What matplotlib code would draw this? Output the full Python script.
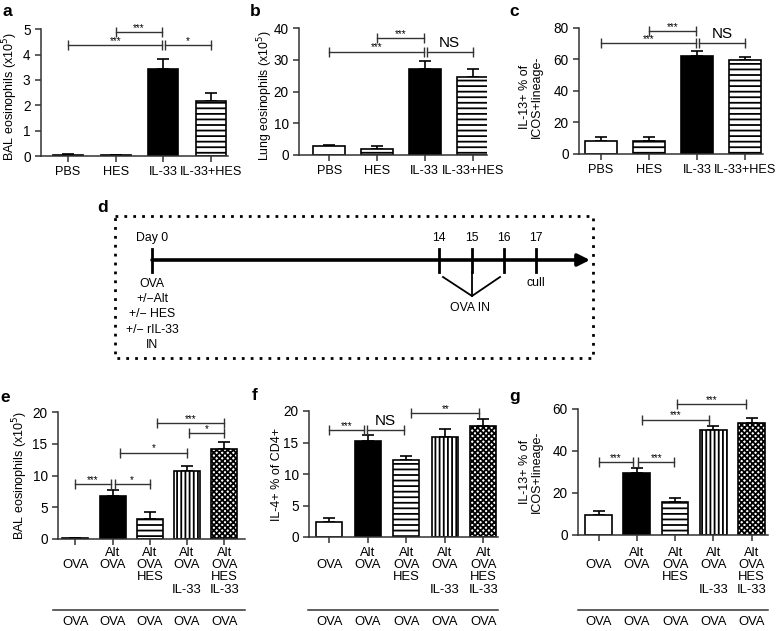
import matplotlib
matplotlib.use('Agg')
import matplotlib.pyplot as plt
import matplotlib.transforms as mtransforms
from matplotlib.patches import Rectangle
import numpy as np

plt.rcParams['font.family'] = ['Liberation Sans', 'DejaVu Sans']
plt.rcParams['hatch.linewidth'] = 1.3

W, H = 777, 631

# ---- data: panels a-c ----
groups_abc = ['PBS', 'HES', 'IL-33', 'IL-33+HES']
bal_mean = [0.05, 0.02, 3.42, 2.18]
bal_err = [0.02, 0.01, 0.40, 0.29]
lung_mean = [2.7, 2.0, 27.3, 24.7]
lung_err = [0.4, 0.7, 2.4, 2.6]
ilc_mean = [8.0, 8.5, 62.0, 59.5]
ilc_err = [3.0, 2.2, 3.0, 2.2]

sig_a = [(0, 1.98, 4.38, '***'), (1, 1.98, 4.88, '***'), (2.04, 3, 4.38, '*')]
sig_b = [(0, 1.98, 32.6, '***'), (1, 1.98, 36.8, '***'), (2.04, 3, 32.6, 'NS')]
sig_c = [(0, 1.98, 70.0, '***'), (1, 1.98, 77.9, '***'), (2.04, 3, 70.0, 'NS')]

# ---- data: panels e-g ----
row_alt = ['', 'Alt', 'Alt', 'Alt', 'Alt']
row_ova = ['OVA', 'OVA', 'OVA', 'OVA', 'OVA']
row_hes = ['', '', 'HES', '', 'HES']
row_il33 = ['', '', '', 'IL-33', 'IL-33']
challenge = ['OVA', 'OVA', 'OVA', 'OVA', 'OVA']

e_mean = [0.1, 6.8, 3.2, 10.7, 14.2]
e_err = [0.05, 0.85, 1.0, 0.8, 1.15]
f_mean = [2.4, 15.2, 12.2, 15.8, 17.6]
f_err = [0.6, 1.0, 0.6, 1.3, 1.1]
g_mean = [9.4, 29.5, 15.9, 50.2, 53.3]
g_err = [2.2, 2.2, 1.9, 1.9, 2.2]

sig_e = [(0, 0.95, 8.6, '***'), (1.05, 2, 8.6, '*'), (1.2, 3, 13.6, '*'),
         (3.05, 4, 16.7, '*'), (2.2, 4, 18.3, '***')]
sig_f = [(0, 0.9, 17.0, '***'), (0.97, 1.94, 17.0, 'NS'), (2.13, 3.89, 19.7, '**')]
sig_g = [(0, 0.91, 34.6, '***'), (1.04, 1.98, 34.6, '***'), (1.13, 2.88, 55.0, '***'),
         (2.05, 3.86, 62.4, '***')]

# ---- data: panel d timeline ----
days = ['Day 0', '14', '15', '16', '17']
day_px = [152, 439, 472, 504, 536]
day0_text = ['OVA', '+/\u2212Alt', '+/\u2212 HES', '+/\u2212 rIL-33', 'IN']

fills_abc = ['white', 'white', 'black', 'white']
hatch_abc = ['', '---', '', '---']
fills_efg = ['white', 'black', 'white', 'white', 'white']
hatch_efg = ['', '', '---', '||||', 'xxxxxx']

dark = '#333333'

fig = plt.figure(figsize=(W / 100, H / 100), dpi=100)

# overlay axes in pixel coordinates (for the diagram, letters, lines)
ov = fig.add_axes([0, 0, 1, 1])
ov.set_xlim(0, W)
ov.set_ylim(H, 0)
ov.axis('off')


def px_axes(left, right, bottom, top):
    ax = fig.add_axes([left / W, 1 - bottom / H, (right - left) / W, (bottom - top) / H])
    ax.set_facecolor('none')
    return ax


def style(ax, ylim, yticks, xlim):
    for s in ['top', 'right']:
        ax.spines[s].set_visible(False)
    for s in ['left', 'bottom']:
        ax.spines[s].set_color(dark)
        ax.spines[s].set_linewidth(1.1)
    ax.set_ylim(*ylim)
    ax.set_xlim(*xlim)
    ax.set_yticks(yticks)
    ax.tick_params(colors=dark, labelcolor='black', labelsize=9.8, length=4, width=1.1)
    ax.tick_params(axis='x', labelsize=9.2)


def bars(ax, mean, err, fills, hatches, width):
    x = np.arange(len(mean))
    ax.errorbar(x, mean, yerr=[np.zeros(len(mean)), err], fmt='none', ecolor='black',
                elinewidth=1.2, capsize=4.5, capthick=1.2, zorder=1)
    rects = ax.bar(x, mean, width, color=fills, edgecolor='black', linewidth=1.2, zorder=2)
    for r, h in zip(rects, hatches):
        r.set_hatch(h)


def brackets(ax, sig):
    for x1, x2, y, lab in sig:
        ax.plot([x1, x2], [y, y], color=dark, lw=1.0, marker='|', ms=7, mew=1.0,
                clip_on=False, zorder=3)
        if lab == 'NS':
            ax.annotate(lab, ((x1 + x2) / 2, y), xytext=(0, 6.5), textcoords='offset points',
                        ha='center', va='center', fontsize=11, annotation_clip=False)
        else:
            ax.annotate(lab, ((x1 + x2) / 2, y), xytext=(0, 3), textcoords='offset points',
                        ha='center', va='center', fontsize=7, annotation_clip=False)


# ---- panel a ----
ax = px_axes(41, 228, 156, 29.3)
bars(ax, bal_mean, bal_err, fills_abc, hatch_abc, 0.63)
style(ax, (0, 5), range(0, 6), (-0.57, 3.36))
ax.set_xticks(range(4))
ax.set_xticklabels(groups_abc)
ax.set_ylabel('BAL eosinophils (x10$^5$)', fontsize=9)
ax.yaxis.set_label_coords(-0.112, 0.47)
brackets(ax, sig_a)

# ---- panel b ----
ax = px_axes(299, 487, 155, 28.3)
bars(ax, lung_mean, lung_err, fills_abc, hatch_abc, 0.67)
style(ax, (0, 40), range(0, 41, 10), (-0.63, 3.3))
ax.set_xticks(range(4))
ax.set_xticklabels(groups_abc)
ax.set_ylabel('Lung eosinophils (x10$^5$)', fontsize=8.8)
ax.yaxis.set_label_coords(-0.128, 0.47)
brackets(ax, sig_b)

# ---- panel c ----
ax = px_axes(579, 763, 154, 27.7)
bars(ax, ilc_mean, ilc_err, fills_abc, hatch_abc, 0.66)
style(ax, (0, 80), range(0, 81, 20), (-0.46, 3.37))
ax.set_xticks(range(4))
ax.set_xticklabels(groups_abc)
ax.set_ylabel('IL-13+ % of\nICOS+lineage-', fontsize=9, linespacing=1.0)
ax.yaxis.set_label_coords(-0.196, 0.45)
brackets(ax, sig_c)

# ---- panels e-g ----
rows = [(row_alt, 553), (row_ova, 565), (row_hes, 577), (row_il33, 590), (challenge, 622)]


def lower_labels(ax, line_l, line_r):
    ax.set_xticks(range(5))
    ax.set_xticklabels([])
    tr = mtransforms.blended_transform_factory(ax.transData, fig.transFigure)
    for labels, py in rows:
        for i, t in enumerate(labels):
            ax.text(i, 1 - py / H, t, transform=tr, ha='center', va='center', fontsize=9.4)
    ov.plot([line_l, line_r], [610, 610], color=dark, lw=1.1)


ax = px_axes(58, 245, 539, 412)
bars(ax, e_mean, e_err, fills_efg, hatch_efg, 0.7)
style(ax, (0, 20), range(0, 21, 5), (-0.47, 4.56))
ax.set_ylabel('BAL eosinophils (x10$^5$)', fontsize=9)
ax.yaxis.set_label_coords(-0.15, 0.5)
brackets(ax, sig_e)
lower_labels(ax, 53, 245)

ax = px_axes(309, 498, 537, 411)
bars(ax, f_mean, f_err, fills_efg, hatch_efg, 0.68)
style(ax, (0, 20), range(0, 21, 5), (-0.53, 4.38))
ax.set_ylabel('IL-4+ % of CD4+', fontsize=9)
ax.yaxis.set_label_coords(-0.138, 0.5)
brackets(ax, sig_f)
lower_labels(ax, 308, 498)

ax = px_axes(578, 768, 535, 409)
bars(ax, g_mean, g_err, fills_efg, hatch_efg, 0.7)
style(ax, (0, 60), range(0, 61, 20), (-0.54, 4.43))
ax.set_ylabel('IL-13+ % of\nICOS+lineage-', fontsize=9, linespacing=1.0)
ax.yaxis.set_label_coords(-0.184, 0.5)
brackets(ax, sig_g)
lower_labels(ax, 578, 768)

# ---- panel d: timeline ----
ov.add_patch(Rectangle((115, 216), 478, 142, fill=False, ls=(0, (1, 2.2)), lw=2, ec='black'))
ov.annotate('', xy=(590, 260), xytext=(day_px[0], 260),
            arrowprops=dict(arrowstyle='-|>', lw=2.6, color='black', mutation_scale=18,
                            shrinkA=0, shrinkB=0))
for lab, px in zip(days, day_px):
    ov.plot([px, px], [249, 272], color='black', lw=2)
    ov.text(px, 238, lab, ha='center', va='center', fontsize=8.8)
for k, t in enumerate(day0_text):
    ov.text(day_px[0], 284 + 15.2 * k, t, ha='center', va='center', fontsize=8.8)
ov.text(day_px[4], 283, 'cull', ha='center', va='center', fontsize=8.8)
ov.plot([443, day_px[2], 500], [277, 296, 277], color='black', lw=1.3)
ov.plot([day_px[2], day_px[2]], [272, 296], color='black', lw=1.3)
ov.text(470, 308, 'OVA IN', ha='center', va='center', fontsize=8.8)

# panel letters
for lab, x, y in [('a', 7, 12), ('b', 255, 11), ('c', 514, 12), ('d', 103, 207),
                  ('e', 5, 397), ('f', 255, 396), ('g', 515, 396)]:
    ov.text(x, y, lab, ha='center', va='center', fontsize=12.5, fontweight='bold')

fig.savefig('out.png', dpi=100)
